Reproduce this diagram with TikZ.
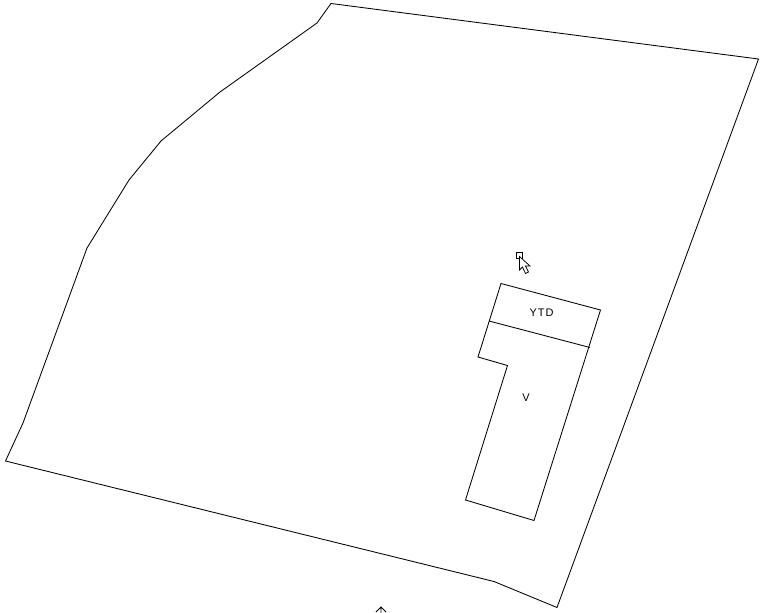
\documentclass[tikz,border=0pt]{standalone}
\usepackage{fontspec}
\setmainfont{Liberation Sans}
\newfontfamily\labfont[LetterSpace=9]{Liberation Sans}
\tikzset{plan/.style={line width=0.85pt,line join=miter,black},
 lab/.style={font=\labfont\fontsize{11}{11}\selectfont,inner sep=0pt,text=black}}
\begin{document}
\begin{tikzpicture}[x=1pt,y=-1pt]
\useasboundingbox[fill=white] (0,0) rectangle (764,613);
\draw[plan] (331,3.5) -- (758.5,59) -- (557,607.5) -- (494,581.5) -- (5.5,461) -- (23,423) -- (87,248) -- (129,180) -- (161,141) -- (220,92) -- (317,23) -- cycle;
\draw[plan] (501,283.5) -- (600.5,310) -- (534,520.5) -- (465.5,500) -- (507.5,365.5) -- (478,357) -- cycle;
\draw[plan] (489,321) -- (590,347.5);
\node[lab] (ytd) at (541.5,313) {YTD};
\node[lab] (v) at (526,398) {V};
\draw[line width=0.75pt] (516.5,252.5) rectangle (522,258);
\draw[line width=0.75pt,fill=white] (519.5,256.5) -- (519.5,270) -- (522.5,267) -- (525.5,273.5) -- (528.5,272) -- (525.5,266) -- (530,266) -- cycle;
\draw[line width=0.75pt] (381,607) -- (381,613) (376,612) -- (381,607) -- (386,612);
\end{tikzpicture}
\end{document}
